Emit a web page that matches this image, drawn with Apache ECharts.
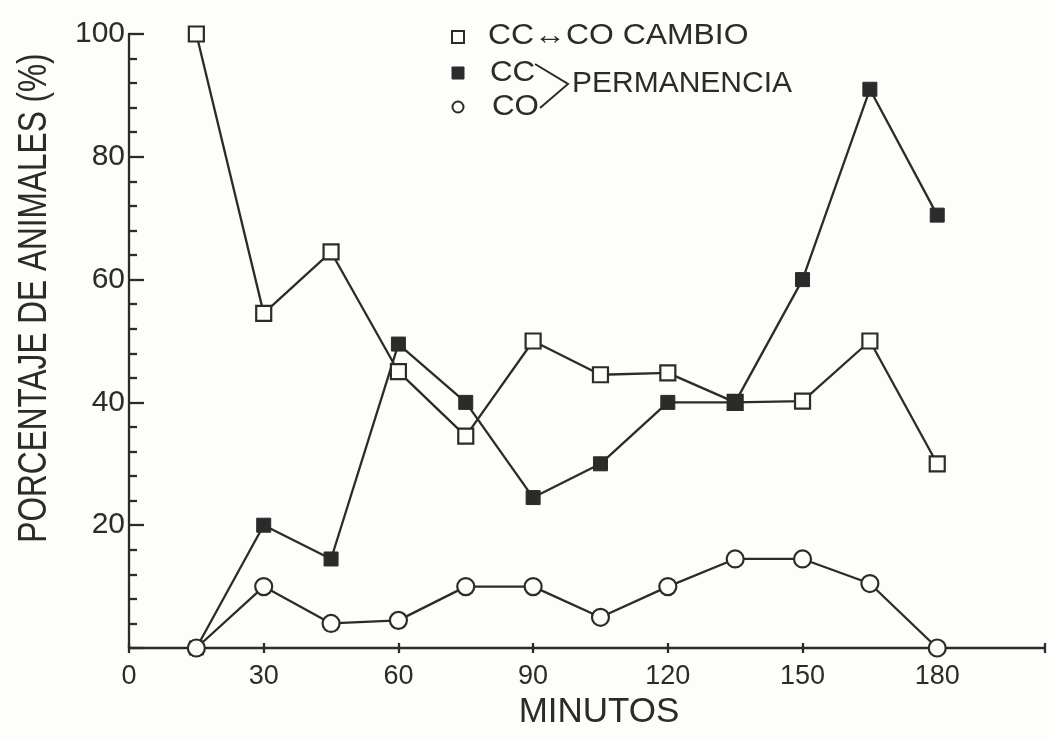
<!DOCTYPE html>
<html><head><meta charset="utf-8">
<script src="https://cdn.jsdelivr.net/npm/echarts@6/dist/echarts.min.js"></script>
<style>html,body{margin:0;padding:0;background:#fdfdfa}#c{width:1048px;height:741px}</style>
</head><body><div id="c"></div>
<script>
// ---- data ----
const minutes = [15, 30, 45, 60, 75, 90, 105, 120, 135, 150, 165, 180];
const cambio  = [100, 54.5, 64.5, 45, 34.5, 50, 44.5, 44.8, 40, 40.2, 50, 30];   // CC<->CO cambio (open squares)
const permCC  = [0, 20, 14.5, 49.5, 40, 24.5, 30, 40, 40, 60, 91, 70.5];         // CC permanencia (filled squares)
const permCO  = [0, 10, 4, 4.5, 10, 10, 5, 10, 14.5, 14.5, 10.5, 0];             // CO permanencia (circles)
const xTicks = [0, 30, 60, 90, 120, 150, 180];
const yTicks = [20, 40, 60, 80, 100];
const yTitle = 'PORCENTAJE DE ANIMALES (%)';
const xTitle = 'MINUTOS';
const legendCambio = 'CC\u2194CO CAMBIO';
const legendCC = 'CC';
const legendCO = 'CO';
const legendPerm = 'PERMANENCIA';

const ink = '#2b2b2b';
const bg = '#fdfdfa';
const fam = '"Liberation Sans", Arial, Helvetica, sans-serif';
const pairs = arr => minutes.map((m, i) => [m, arr[i]]);

const chart = echarts.init(document.getElementById('c'), null, {renderer: 'canvas'});
const lineStyle = {color: ink, width: 2.3};

const option = {
  backgroundColor: bg,
  animation: false,
  grid: {left: 129, right: 0, top: 34, bottom: 93},
  xAxis: [{
    type: 'value', min: 0, max: 204, interval: 30,
    axisLine: {show: true, lineStyle: lineStyle},
    axisTick: {show: true, inside: false, length: 5, lineStyle: lineStyle},
    axisLabel: {fontSize: 27, color: ink, fontFamily: fam, margin: 15,
      formatter: v => xTicks.indexOf(v) >= 0 ? String(v) : ''},
    splitLine: {show: false}
  }, {
    type: 'value', position: 'bottom', offset: 0, min: 0, max: 204, interval: 30,
    axisLine: {show: false},
    axisTick: {show: true, inside: true, length: 5, lineStyle: lineStyle},
    axisLabel: {show: false},
    splitLine: {show: false}
  }],
  yAxis: {
    type: 'value', min: 0, max: 100, interval: 20,
    axisLine: {show: true, lineStyle: lineStyle},
    axisTick: {show: true, inside: true, length: 15, lineStyle: lineStyle},
    minorTick: {show: true, splitNumber: 5, length: 8, lineStyle: lineStyle},
    axisLabel: {fontSize: 30, color: ink, fontFamily: fam, margin: 4,
      formatter: v => yTicks.indexOf(v) >= 0 ? String(v) : ''},
    splitLine: {show: false}
  },
  series: [{
    name: 'cambio', type: 'line', data: pairs(cambio), clip: false,
    symbol: 'rect', symbolSize: 15,
    lineStyle: lineStyle,
    itemStyle: {color: bg, borderColor: ink, borderWidth: 2.2}
  }, {
    name: 'permCC', type: 'line', data: pairs(permCC), clip: false,
    symbol: 'rect', symbolSize: 14,
    lineStyle: lineStyle,
    itemStyle: {color: ink, borderColor: ink, borderWidth: 1}
  }, {
    name: 'permCO', type: 'line', data: pairs(permCO), clip: false,
    symbol: 'circle', symbolSize: 17,
    lineStyle: lineStyle,
    itemStyle: {color: bg, borderColor: ink, borderWidth: 2.2}
  }],
  graphic: [
    {type: 'text', x: 35, y: 298, rotation: Math.PI / 2, scaleX: 0.79,
      style: {text: yTitle, font: '40px ' + fam, fill: ink,
        textAlign: 'center', textVerticalAlign: 'middle', align: 'center', verticalAlign: 'middle'}},
    {type: 'text', x: 599, y: 712,
      style: {text: xTitle, font: '35px ' + fam, fill: ink,
        textAlign: 'center', textVerticalAlign: 'middle', align: 'center', verticalAlign: 'middle'}},
    // legend
    {type: 'rect', shape: {x: 452, y: 31, width: 12, height: 12},
      style: {fill: bg, stroke: ink, lineWidth: 2}},
    {type: 'rect', shape: {x: 452, y: 67, width: 12, height: 12},
      style: {fill: ink, stroke: ink, lineWidth: 1}},
    {type: 'circle', shape: {cx: 458, cy: 107, r: 5.5},
      style: {fill: bg, stroke: ink, lineWidth: 2}},
    {type: 'text', x: 488, y: 36, scaleX: 1.1,
      style: {text: legendCambio, font: '29px ' + fam, fill: ink,
        textAlign: 'left', textVerticalAlign: 'middle', align: 'left', verticalAlign: 'middle'}},
    {type: 'text', x: 490, y: 73, scaleX: 1.08,
      style: {text: legendCC, font: '29px ' + fam, fill: ink,
        textAlign: 'left', textVerticalAlign: 'middle', align: 'left', verticalAlign: 'middle'}},
    {type: 'text', x: 492, y: 107, scaleX: 1.08,
      style: {text: legendCO, font: '29px ' + fam, fill: ink,
        textAlign: 'left', textVerticalAlign: 'middle', align: 'left', verticalAlign: 'middle'}},
    {type: 'polyline', shape: {points: [[535, 64], [568, 84], [540, 108]]},
      style: {fill: null, stroke: ink, lineWidth: 2}},
    {type: 'text', x: 572, y: 84,
      style: {text: legendPerm, font: '30px ' + fam, fill: ink,
        textAlign: 'left', textVerticalAlign: 'middle', align: 'left', verticalAlign: 'middle'}}
  ]
};
chart.setOption(option);
</script>
</body></html>
